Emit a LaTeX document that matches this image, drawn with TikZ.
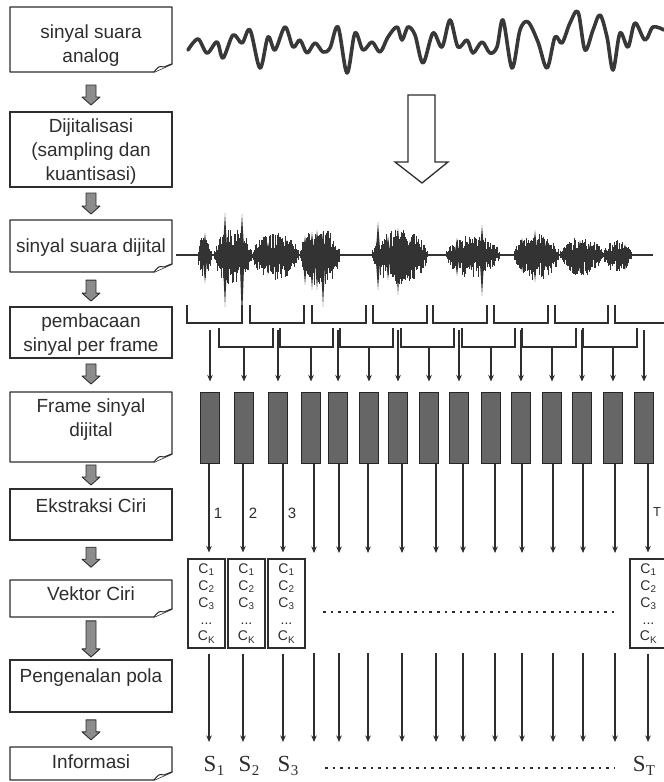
\documentclass[tikz,border=0pt]{standalone}
\usepackage{fontspec}
\setmainfont{Liberation Sans}
\newfontfamily\serifS{Liberation Serif}
\usetikzlibrary{arrows.meta,calc}
\definecolor{ink}{HTML}{2E2E2E}
\definecolor{sig}{HTML}{333333}
\tikzset{
  fat/.pic={\filldraw[fill=black!45, draw=ink, line width=0.9pt, line join=round]
     (-5,-#1/2) -- (-5,#1/2-8) -- (-9,#1/2-8) -- (0,#1/2) -- (9,#1/2-8) -- (5,#1/2-8) -- (5,-#1/2) -- cycle;}
}
\newcommand\docoutline[1]{%
  \draw[draw=ink, line width=1.4pt, line join=round] (#1.north west) -- (#1.north east) -- ([yshift=8pt]#1.south east) -- ([xshift=-18pt]#1.south east) -- (#1.south west) -- cycle;
  \draw[draw=ink, line width=1pt, fill=white, line join=round] ([xshift=-18pt]#1.south east) .. controls ([xshift=-13pt,yshift=6pt]#1.south east) .. ([xshift=-8pt,yshift=5pt]#1.south east) -- ([yshift=8pt]#1.south east);}
\newcommand\Ssub[1]{S\kern.3pt\raisebox{-4pt}{\fontsize{15}{15}\selectfont #1}}
\newcommand\Cvec{C\textsubscript{1}\\C\textsubscript{2}\\C\textsubscript{3}\\...\\C\textsubscript{K}}
\begin{document}
\begin{tikzpicture}[x=1pt,y=-1pt,
  boxnode/.style={inner sep=0pt, outer sep=0pt, minimum width=162pt},
  plainbox/.style={boxnode, draw=ink, line width=1.4pt},
  lbl/.style={font=\fontsize{19}{24}\selectfont, text=ink, align=center, inner sep=0pt, anchor=north},
  arr/.style={draw=ink, line width=1.1pt, -{Stealth[length=6.5pt,width=5.5pt]}},
  framebox/.style={draw=black!85, fill=black!60, line width=1pt, minimum width=19pt, minimum height=71pt, inner sep=0pt},
  vecbox/.style={draw=ink, line width=1.1pt, minimum width=37pt, minimum height=89pt, inner sep=0pt, align=center, font=\fontsize{14}{16.8}\selectfont, text=ink},
  bracket/.style={draw=ink, line width=1.2pt},
  dotline/.style={draw=ink, line width=2.6pt, dash pattern=on 2.6pt off 5pt},
  wave/.style={draw=black!78, line width=3.6pt, line join=round, line cap=round},
  numlbl/.style={font=\fontsize{15}{15}\selectfont, text=ink, inner sep=0pt},
  slbl/.style={font=\serifS\fontsize{23}{23}\selectfont, text=ink, inner sep=0pt, anchor=base}
]
\useasboundingbox (0,0) rectangle (664,782);
\fill[white] (0,0) rectangle (664,782);

% ---------------- left column ----------------
\node[boxnode, minimum height=65pt] (b1) at (91,39.5) {};
\node[plainbox, minimum height=75pt] (b2) at (91,149.5) {};
\node[boxnode, minimum height=52pt] (b3) at (91,246) {};
\node[plainbox, minimum height=51pt] (b4) at (91,332.5) {};
\node[boxnode, minimum height=70pt] (b5) at (91,427) {};
\node[plainbox, minimum height=51pt] (b6) at (91,514.5) {};
\node[boxnode, minimum height=37pt] (b7) at (91,598.5) {};
\node[plainbox, minimum height=52pt] (b8) at (91,686) {};
\node[boxnode, minimum height=33pt] (b9) at (91,763.5) {};
\docoutline{b1}
\docoutline{b3}
\docoutline{b5}
\docoutline{b7}
\docoutline{b9}

\node[lbl] (t1) at (91,21.2) {\strut sinyal suara\\analog};
\node[lbl] (t2) at (91,115.2) {\strut Dijitalisasi\\(sampling dan\\kuantisasi)};
\node[lbl] (t3) at (91,235.2) {\strut sinyal suara dijital};
\node[lbl] (t4) at (91,310.2) {\strut pembacaan\\sinyal per frame};
\node[lbl] (t5) at (91,395.2) {\strut Frame sinyal\\dijital};
\node[lbl] (t6) at (91,495.2) {\strut Ekstraksi Ciri};
\node[lbl] (t7) at (91,583.2) {\strut Vektor Ciri};
\node[lbl] (t8) at (91,665.2) {\strut Pengenalan pola};
\node[lbl] (t9) at (91,751.2) {\strut Informasi};

\path (b1.south) -- (b2.north) pic[pos=0.575] {fat=20};
\path (b2.south) -- (b3.north) pic[pos=0.5] {fat=21};
\path (b3.south) -- (b4.north) pic[pos=0.53] {fat=21};
\path (b4.south) -- (b5.north) pic[pos=0.47] {fat=20};
\path (b5.south) -- (b6.north) pic[pos=0.48] {fat=20};
\path (b6.south) -- (b7.north) pic[pos=0.43] {fat=20};
\path (b7.south) -- (b8.north) pic[pos=0.51] {fat=36};
\path (b8.south) -- (b9.north) pic[pos=0.51] {fat=20};

% ---------------- analog wave ----------------
\draw[wave] plot[smooth, tension=0.55] coordinates {
(188,50) (198,39) (207,53) (217,42) (223,58) (233,35) (242,43) (250,30) (260,68) (268,37)
(275,50) (285,27) (293,47) (300,40) (307,53) (315,43) (323,52) (330,48) (338,27) (347,73)
(355,33) (363,50) (372,42) (380,52) (388,37) (397,27) (402,40) (408,27) (415,35) (423,63)
(433,33) (442,47) (450,20) (458,47) (467,40) (473,53) (482,42) (490,53) (497,47) (503,20)
(512,68) (520,30) (528,22) (538,42) (547,68) (555,37) (562,43) (570,23) (578,12) (585,50)
(593,30) (600,15) (607,37) (613,70) (620,33) (628,47) (635,23) (645,40) (653,27) (664,30)};

% hollow arrow
\draw[draw=ink, line width=1.3pt, fill=white, line join=miter]
  (408,95) -- (435,95) -- (435,162) -- (448,162) -- (422,183) -- (395,162) -- (408,162) -- cycle;

% ---------------- digital signal ----------------
\pgfmathsetseed{42}
\draw[draw=sig, line width=2pt] (176,255) -- (653,255);
\foreach \sa/\sb/\samp in {198/212/22, 214/252/26, 252/300/22, 300/340/28, 372/428/26, 446/500/20, 514/560/22, 560/603/18, 603/632/15}{
  \pgfmathtruncatemacro\sgN{(\sb-\sa)/0.7}
  \foreach \si in {0,...,\sgN}{
    \pgfmathsetmacro\sgX{\sa+0.7*\si}
    \pgfmathsetmacro\sgW{sqrt(abs(sin(180*\si/\sgN)))}
    \pgfmathsetmacro\sgU{\samp*\sgW*(0.3+0.7*rnd)}
    \pgfmathsetmacro\sgD{\samp*\sgW*(0.3+0.7*rnd)*1.15}
    \draw[draw=sig, line width=1.1pt] (\sgX,255-\sgU) -- (\sgX,255+\sgD);
  }
}
\foreach \px/\pt/\pb in {205/233/283, 225/213/307, 242/214/320, 268/242/275, 278/238/272, 287/240/270,
  305/236/285, 312/232/290, 317/230/290, 323/232/307, 378/222/290, 388/236/280, 398/228/295, 410/240/275,
  457/238/276, 470/242/268, 482/225/296, 522/238/272, 535/230/282, 545/242/268, 580/240/272, 590/244/266, 625/244/270}{
  \fill[sig] (\px-2.5,255) -- (\px,\pt) -- (\px+2.5,255) -- (\px,\pb) -- cycle;
}

% ---------------- frames ----------------
\foreach \i/\x in {1/210,2/244,3/278,4/311,5/338,6/369,7/398,8/429,9/459,10/491,11/521,12/552,13/582,14/613,15/644}{
  \node[framebox] (f\i) at (\x,427.5) {};
}

% brackets, row 1
\foreach \j/\a/\b/\col in {1/187/242/1, 2/250/304/3, 3/312/366/5, 4/373/427/7, 5/433/487/9, 6/494/548/11, 7/555/608/13, 8/615/668/15}{
  \draw[bracket] (\a,305) -- (\a,323) -- (\b,323) -- (\b,305);
  \coordinate (ra\j) at ({(\a+\b)/2},323);
  \draw[arr, shorten <=7pt, shorten >=10pt] (f\col.north |- ra\j) -- (f\col.north);
}
% brackets, row 2
\foreach \j/\a/\b/\col in {1/219/273/2, 2/280/333/4, 3/340/393/6, 4/401/454/8, 5/462/515/10, 6/522/576/12, 7/583/637/14}{
  \draw[bracket] (\a,328) -- (\a,347) -- (\b,347) -- (\b,328);
  \coordinate (rb\j) at ({(\a+\b)/2},347);
  \draw[arr, shorten >=10pt] (f\col.north |- rb\j) -- (f\col.north);
}

% ---------------- feature vectors ----------------
\node[vecbox] (v1) at (206.5,603.5) {\Cvec};
\node[vecbox] (v2) at (246.5,603.5) {\Cvec};
\node[vecbox] (v3) at (286.5,603.5) {\Cvec};
\node[vecbox] (v15) at (648.5,603.5) {\Cvec};

\coordinate (vtop) at (0,553);
\coordinate (vbot) at (0,653);
\coordinate (send) at (0,742);

\foreach \i/\lx in {1/209,2/243,3/283,4/314,5/339,6/368,7/402,8/436,9/463,10/495,11/522,12/553,13/583,14/615,15/648}{
  \coordinate (c\i) at (\lx,0);
}
% arrows into and out of vector boxes
\foreach \i in {1,2,3,15}{
  \draw[arr, shorten >=6pt] (c\i |- f\i.south) -- (c\i |- v\i.north);
  \draw[arr, shorten <=5pt] (c\i |- v\i.south) -- (c\i |- send);
}
\foreach \i in {4,...,14}{
  \draw[arr] (c\i |- f\i.south) -- (c\i |- vtop);
  \draw[arr] (c\i |- vbot) -- (c\i |- send);
}

\node[numlbl] (n1) at (218,513) {1};
\node[numlbl] (n2) at (253,513) {2};
\node[numlbl] (n3) at (292,513) {3};
\node[numlbl, font=\fontsize{13}{13}\selectfont] (nT) at (657,512) {T};

\coordinate (d1a) at (323,612);
\coordinate (d1b) at (615,612);
\draw[dotline] (d1a) -- (d1b);
\coordinate (d2a) at (325,768);
\coordinate (d2b) at (615,768);
\draw[dotline] (d2a) -- (d2b);

\node[slbl] (s1) at (214,771) {\Ssub{1}};
\node[slbl] (s2) at (249,771) {\Ssub{2}};
\node[slbl] (s3) at (288,771) {\Ssub{3}};
\node[slbl] (sT) at (644,771) {\Ssub{T}};
\end{tikzpicture}
\end{document}
